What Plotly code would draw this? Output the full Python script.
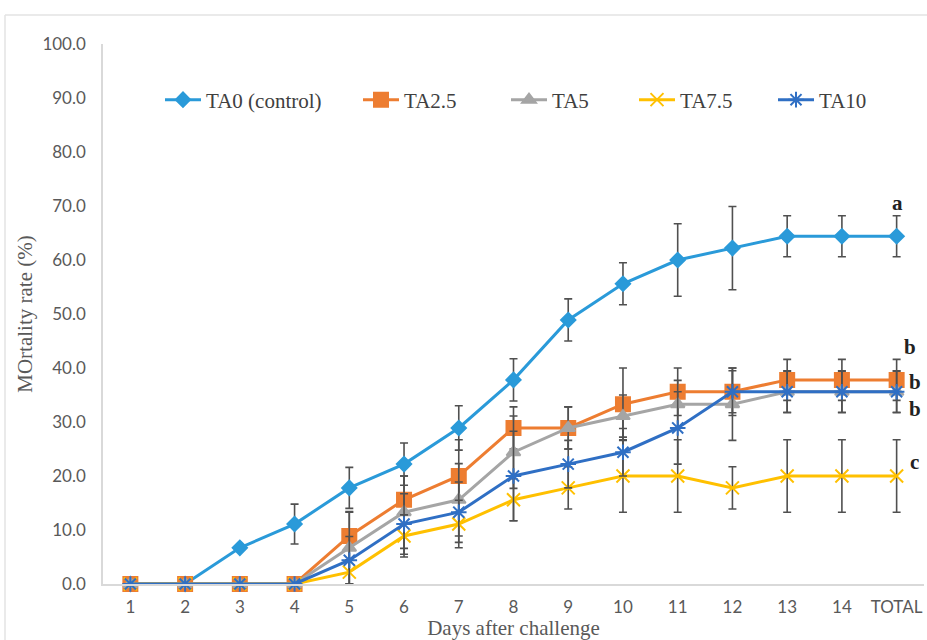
import plotly.graph_objects as go

days = ["1", "2", "3", "4", "5", "6", "7", "8", "9", "10", "11", "12", "13", "14", "TOTAL"]

ta0 = [0, 0, 6.7, 11.1, 17.8, 22.2, 28.9, 37.8, 48.9, 55.6, 60.0, 62.2, 64.4, 64.4, 64.4]
ta0_err = [None, None, None, 3.7, 3.8, 3.9, 4.1, 3.9, 3.9, 3.9, 6.7, 7.7, 3.8, 3.8, 3.8]

ta25 = [0, 0, 0, 0, 8.9, 15.6, 20.0, 28.9, 28.9, 33.3, 35.6, 35.6, 37.8, 37.8, 37.8]
ta25_err = [None, None, None, None, 4.4, 4.4, 6.7, 3.9, 3.9, 6.7, 4.4, 3.9, 3.8, 3.8, 3.8]

ta5 = [0, 0, 0, 0, 6.7, 13.3, 15.6, 24.4, 28.9, 31.1, 33.3, 33.3, 35.6, 35.6, 35.6]
ta5_err = [None, None, None, None, 6.7, 6.7, 6.7, 6.7, 3.9, 3.9, 4.4, 6.7, 3.9, 3.9, 3.9]

ta75 = [0, 0, 0, 0, 2.2, 8.9, 11.1, 15.6, 17.8, 20.0, 20.0, 17.8, 20.0, 20.0, 20.0]
ta75_err = [None, None, None, None, 2.2, 3.9, 4.4, 3.9, 3.9, 6.7, 6.7, 3.9, 6.7, 6.7, 6.7]

ta10 = [0, 0, 0, 0, 4.4, 11.1, 13.3, 20.0, 22.2, 24.4, 28.9, 35.6, 35.6, 35.6, 35.6]
ta10_err = [None, None, None, None, 4.4, 5.6, 5.6, 8.3, 4.4, 4.4, 6.7, 4.4, 3.8, 3.8, 3.8]

series_names = ["TA0 (control)", "TA2.5", "TA5", "TA7.5", "TA10"]
series_vals = [ta0, ta25, ta5, ta75, ta10]
series_errs = [ta0_err, ta25_err, ta5_err, ta75_err, ta10_err]
colors = ["#2A9AD9", "#ED7D31", "#A5A5A5", "#FFC000", "#2F6FC4"]
symbols = ["diamond", "square", "triangle-up", "x-thin-open", "asterisk-open"]
sizes = [11, 14, 12, 13, 13]
legend_ids = ["legend", "legend2", "legend3", "legend4", "legend5"]
legend_x_px = [160, 358, 506, 634, 773]

sig_letters = ["a", "b", "b", "b", "c"]
sig_y = [70.6, 43.9, 37.4, 32.4, 22.6]
sig_shift = [1, 13, 18, 18, 18]

L, R, T, B = 103, 3, 44, 56
W, H = 927, 640
pw = W - L - R
ph = H - T - B

fig = go.Figure()
for name, vals, errs, col, sym, sz, lg in zip(series_names, series_vals, series_errs,
                                               colors, symbols, sizes, legend_ids):
    fig.add_trace(go.Scatter(
        x=days, y=vals, name=name, mode="lines+markers",
        line=dict(color=col, width=3),
        marker=dict(symbol=sym, size=sz, color=col, line=dict(color=col, width=2)),
        error_y=dict(type="data", array=errs, visible=True, color="#505050",
                     thickness=1.6, width=4),
        cliponaxis=False, legend=lg,
    ))

legend_font = dict(family="Liberation Serif", size=21, color="#404040")
layout_legends = {}
for lg, px in zip(legend_ids, legend_x_px):
    layout_legends[lg] = dict(
        x=(px - L) / pw, y=(584 - 100) / ph, xanchor="left", yanchor="middle",
        orientation="h", bgcolor="rgba(0,0,0,0)", font=legend_font, itemwidth=36,
    )

annotations = []
for lt, yv, sh in zip(sig_letters, sig_y, sig_shift):
    annotations.append(dict(
        x="TOTAL", y=yv, xref="x", yref="y", text="<b>%s</b>" % lt, showarrow=False,
        xshift=sh, font=dict(family="Liberation Serif", size=21, color="#222222"),
    ))

fig.update_layout(
    width=W, height=H,
    margin=dict(l=L, r=R, t=T, b=B, autoexpand=False),
    paper_bgcolor="white", plot_bgcolor="white",
    showlegend=True,
    annotations=annotations,
    shapes=[
        dict(type="line", xref="paper", yref="paper",
             x0=(5 - L) / pw, x1=(W + 5 - L) / pw, y0=(584 - 15) / ph, y1=(584 - 15) / ph,
             line=dict(color="#E3E3E3", width=1.5)),
        dict(type="line", xref="paper", yref="paper",
             x0=(5 - L) / pw, x1=(5 - L) / pw, y0=(584 - 15) / ph, y1=(584 - 650) / ph,
             line=dict(color="#E3E3E3", width=1.5)),
    ],
    xaxis=dict(
        type="category", range=[-0.5, 14.5], showgrid=False, zeroline=False,
        showline=True, linecolor="#D9D9D9", linewidth=1.5,
        ticks="", ticklabelstandoff=7,
        tickfont=dict(family="Lato", size=17, color="#595959"),
        title=dict(text="Days after challenge", standoff=13,
                   font=dict(family="Liberation Serif", size=21, color="#595959")),
    ),
    yaxis=dict(
        range=[0, 100], dtick=10, tickformat=".1f", showgrid=False, zeroline=False,
        showline=True, linecolor="#D9D9D9", linewidth=1.5,
        ticks="", ticklabelstandoff=12,
        tickfont=dict(family="Lato", size=17, color="#595959"),
        title=dict(text="MOrtality rate (%)", standoff=4,
                   font=dict(family="Liberation Serif", size=21, color="#595959")),
    ),
    **layout_legends,
)

fig.write_html("out.html", config={"displayModeBar": False},
               post_script="document.body.style.margin='0';document.body.style.padding='0';")
